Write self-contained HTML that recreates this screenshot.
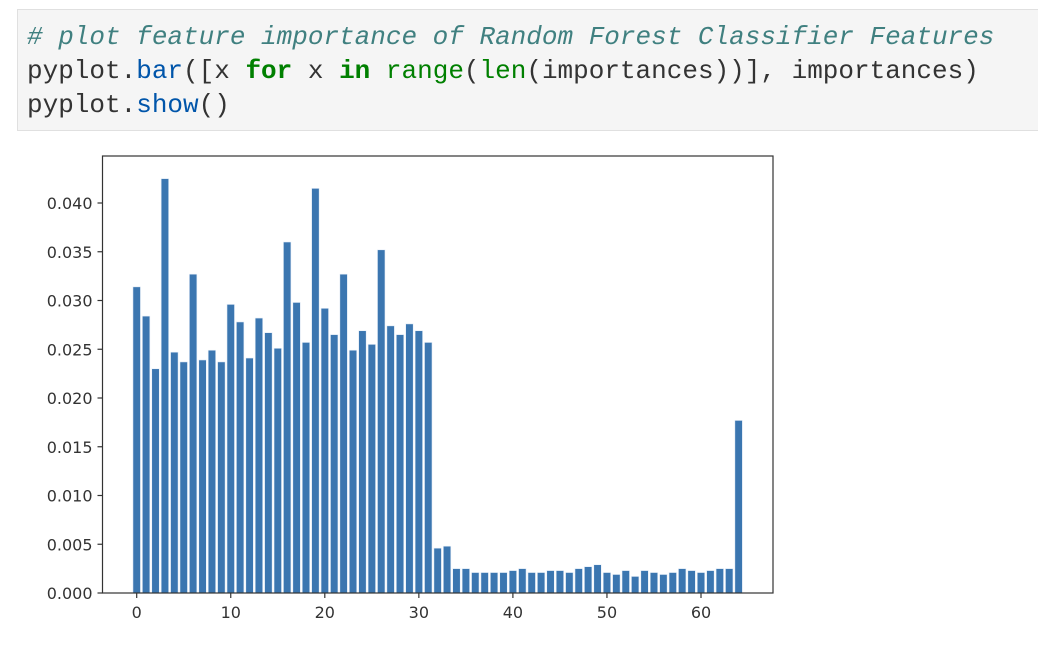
<!DOCTYPE html>
<html><head><meta charset="utf-8"><style>
body{margin:0;background:#fff;width:1038px;height:652px;overflow:hidden;position:relative}
#cell{position:absolute;left:17px;top:9px;width:1030px;height:122px;background:#f5f5f5;border:1px solid #e0e0e0;box-sizing:border-box}
pre{margin:0;position:absolute;left:9px;top:10px;font:26px/34px "Liberation Mono","DejaVu Sans Mono",monospace;color:#333}
.c{color:#408080;font-style:italic}.k{color:#008000;font-weight:bold}.b{color:#008000}.f{color:#0055aa}
svg{position:absolute;left:0;top:0}
text{font-family:"DejaVu Sans","Liberation Sans",sans-serif;font-size:16px;fill:#333}
</style></head><body>
<div id="cell"><pre><span class="c"># plot feature importance of Random Forest Classifier Features</span>
pyplot.<span class="f">bar</span>([x <span class="k">for</span> x <span class="k">in</span> <span class="b">range</span>(<span class="b">len</span>(importances))], importances)
pyplot.<span class="f">show</span>()</pre></div>
<svg id="chart" width="1038" height="652"></svg>
<script>
const importances=[0.0314,0.0284,0.0230,0.0425,0.0247,0.0237,0.0327,0.0239,0.0249,0.0237,0.0296,0.0278,0.0241,0.0282,0.0267,0.0251,0.0360,0.0298,0.0257,0.0415,0.0292,0.0265,0.0327,0.0249,0.0269,0.0255,0.0352,0.0274,0.0265,0.0276,0.0269,0.0257,0.0046,0.0048,0.0025,0.0025,0.0021,0.0021,0.0021,0.0021,0.0023,0.0025,0.0021,0.0021,0.0023,0.0023,0.0021,0.0025,0.0027,0.0029,0.0021,0.0019,0.0023,0.0017,0.0023,0.0021,0.0019,0.0021,0.0025,0.0023,0.0021,0.0023,0.0025,0.0025,0.0177];
const yTicks=[0,0.005,0.010,0.015,0.020,0.025,0.030,0.035,0.040];
const yTickLabels=["0.000","0.005","0.010","0.015","0.020","0.025","0.030","0.035","0.040"];
const xTicks=[0,10,20,30,40,50,60];
const svg=document.getElementById('chart');
const NS='http://www.w3.org/2000/svg';
const L=102.5,R=773,T=156,B=593;
const X=v=>136.7+v*9.405;
const Y=v=>593-v*9750;
function mk(t,a){const e=document.createElementNS(NS,t);for(const k in a)e.setAttribute(k,a[k]);svg.appendChild(e);return e;}
importances.forEach((v,i)=>{
 const r=mk('rect',{x:X(i-0.4),y:Y(v),width:0.8*9.405,height:B-Y(v),fill:'#3b76b0',stroke:'#e6eef8','stroke-width':0.6});
 
 
});
const fr=mk('rect',{x:L,y:T,width:R-L,height:B-T,fill:'none',stroke:'#333','stroke-width':1.2});


yTicks.forEach((v,i)=>{
 mk('line',{x1:L-5,x2:L,y1:Y(v),y2:Y(v),stroke:'#333','stroke-width':1.2});
 const t=mk('text',{x:L-10,y:Y(v)+6,'text-anchor':'end'});t.textContent=yTickLabels[i];
 
 
});
xTicks.forEach(v=>{
 mk('line',{x1:X(v),x2:X(v),y1:B,y2:B+5,stroke:'#333','stroke-width':1.2});
 const t=mk('text',{x:X(v),y:B+25,'text-anchor':'middle'});t.textContent=v;
 
 
});
</script>
</body></html>
